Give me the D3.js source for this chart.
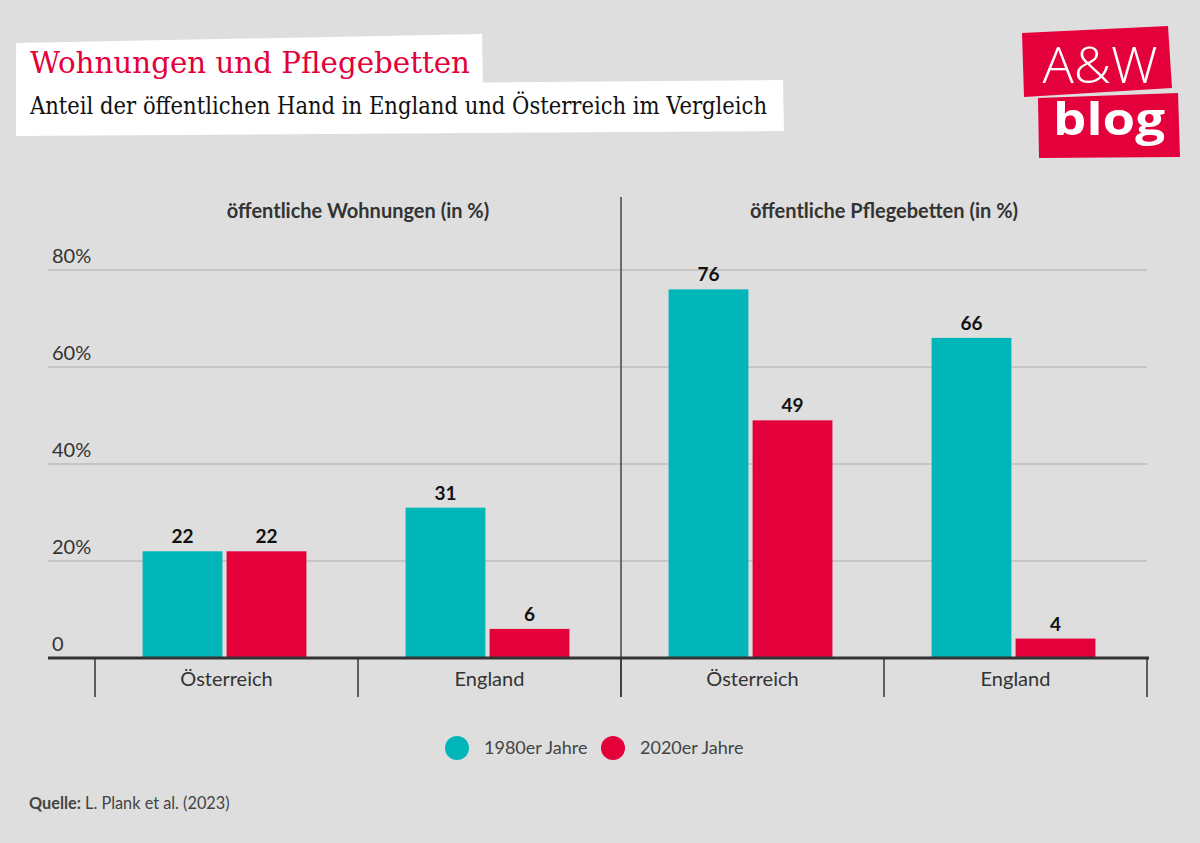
<!DOCTYPE html>
<html><head><meta charset="utf-8">
<script src="https://cdn.jsdelivr.net/npm/d3@7"></script>
<style>html,body{margin:0;padding:0;background:#dedede;}svg{display:block;}</style>
</head><body>
<svg id="c" width="1200" height="843"></svg>
<script>
const title = "Wohnungen und Pflegebetten";
const subtitle = "Anteil der öffentlichen Hand in England und Österreich im Vergleich";
const panels = ["öffentliche Wohnungen (in %)", "öffentliche Pflegebetten (in %)"];
const categories = ["Österreich", "England"];
const series = ["1980er Jahre", "2020er Jahre"];
const wohnungen1980 = [22, 31];
const wohnungen2020 = [22, 6];
const pflege1980 = [76, 66];
const pflege2020 = [49, 4];
const yTicks = [0, 20, 40, 60, 80];
const yTickLabels = ["0", "20%", "40%", "60%", "80%"];
const colors = ["#00b6b9", "#e4003b"];
const sourceBold = "Quelle:";
const sourceText = " L. Plank et al. (2023)";

const panelData = [
  [wohnungen1980, wohnungen2020],
  [pflege1980, pflege2020]
];

const svg = d3.select("#c");
svg.append("rect").attr("width",1200).attr("height",843).attr("fill","#dedede");

// Title boxes
svg.append("polygon").attr("points","16,43 482,34 483,88 16,90").attr("fill","#fff");
svg.append("polygon").attr("points","16,86 783,80 784,131 16,136").attr("fill","#fff");
const serif = "'DejaVu Serif Condensed','DejaVu Serif',serif";
svg.append("text").attr("x",30).attr("y",73).attr("font-family",serif)
  .attr("font-size",30).attr("fill","#e4003b").attr("textLength",440).attr("lengthAdjust","spacingAndGlyphs").text(title);
svg.append("text").attr("x",30).attr("y",114).attr("font-family",serif)
  .attr("font-size",25).attr("fill","#111").attr("textLength",737).attr("lengthAdjust","spacingAndGlyphs").text(subtitle);

// Logo
svg.append("polygon").attr("points","1022,33 1168,26 1172,88 1024,97").attr("fill","#e4003b");
svg.append("polygon").attr("points","1038,98 1178,93 1180,157 1039,158").attr("fill","#e4003b");
svg.append("text").attr("x",1100).attr("y",83).attr("text-anchor","middle").attr("font-family","'Open Sans',sans-serif")
  .attr("font-weight",300).attr("font-size",50).attr("fill","#fff").attr("textLength",115).attr("lengthAdjust","spacingAndGlyphs").text("A&W");
svg.append("text").attr("x",1109).attr("y",135).attr("text-anchor","middle").attr("font-family","'Open Sans',sans-serif")
  .attr("font-weight",700).attr("font-size",44).attr("fill","#fff").attr("textLength",112).attr("lengthAdjust","spacingAndGlyphs").text("blog");

// Scales
const y = d3.scaleLinear().domain([0, 80]).range([658, 270]);
const panelX = d3.scaleBand().domain(panels).range([95, 1147]);
const fontSans = "Lato, 'Open Sans', sans-serif";

// Gridlines
svg.append("g").selectAll("line").data(yTicks.filter(d => d > 0)).join("line")
  .attr("x1",48).attr("x2",1147).attr("y1",d=>y(d)).attr("y2",d=>y(d))
  .attr("stroke","#bdbdbd").attr("stroke-width",1.5);
svg.append("g").selectAll("text").data(yTicks).join("text")
  .attr("x",52).attr("y",d=>y(d)-7).attr("font-family",fontSans).attr("font-size",20).attr("fill","#333")
  .text((d,i)=>yTickLabels[i]);

// Panel divider
svg.append("line").attr("x1",621).attr("x2",621).attr("y1",197).attr("y2",697).attr("stroke","#444").attr("stroke-width",1.5);

panels.forEach((p, pi) => {
  const x0 = panelX(p);
  const bw = panelX.bandwidth();
  const catX = d3.scaleBand().domain(categories).range([x0, x0 + bw]);
  const serX = d3.scaleBand().domain(series).range([0, catX.bandwidth()]).paddingInner(0.05).paddingOuter(0.59);
  svg.append("text").attr("x", x0 + bw/2).attr("y", 218).attr("text-anchor","middle")
    .attr("font-family",fontSans).attr("font-weight",700).attr("font-size",20).attr("fill","#333").text(p);
  const g = svg.append("g");
  series.forEach((s, si) => {
    const vals = panelData[pi][si];
    g.selectAll(null).data(vals).join("rect")
      .attr("x",(d,i)=>catX(categories[i]) + serX(s) - 2).attr("width", serX.bandwidth())
      .attr("y", d=>y(d)).attr("height", d=>y(0)-y(d)).attr("fill", colors[si]);
    g.selectAll(null).data(vals).join("text")
      .attr("x",(d,i)=>catX(categories[i]) + serX(s) - 2 + serX.bandwidth()/2)
      .attr("y", d=>y(d)-8).attr("text-anchor","middle")
      .attr("font-family",fontSans).attr("font-weight",700).attr("font-size",19).attr("fill","#111").text(d=>d);
  });
  svg.append("g").selectAll("text").data(categories).join("text")
    .attr("x", d=>catX(d)+catX.bandwidth()/2).attr("y",686).attr("text-anchor","middle")
    .attr("font-family",fontSans).attr("font-size",20).attr("fill","#333").text(d=>d);
  svg.append("g").selectAll("line").data(categories).join("line")
    .attr("x1", d=>catX(d)).attr("x2", d=>catX(d)).attr("y1",658).attr("y2",697)
    .attr("stroke","#333").attr("stroke-width",1.5);
  if (pi === panels.length-1) {
    svg.append("line").attr("x1",x0+bw).attr("x2",x0+bw).attr("y1",658).attr("y2",697).attr("stroke","#333").attr("stroke-width",1.5);
  }
});

// baseline
svg.append("line").attr("x1",48).attr("x2",1149).attr("y1",y(0)).attr("y2",y(0)).attr("stroke","#333").attr("stroke-width",3);

// Legend
const legX = [457, 613];
series.forEach((s, i) => {
  svg.append("circle").attr("cx",legX[i]).attr("cy",748).attr("r",12).attr("fill",colors[i]);
  svg.append("text").attr("x",legX[i]+27).attr("y",754).attr("font-family",fontSans).attr("font-size",18).attr("fill","#444").text(s);
});

// Source
const src = svg.append("text").attr("x",29).attr("y",809).attr("font-family",fontSans).attr("font-size",16.3).attr("fill","#444");
src.append("tspan").attr("font-weight",700).text(sourceBold);
src.append("tspan").text(sourceText);
</script>
</body></html>
